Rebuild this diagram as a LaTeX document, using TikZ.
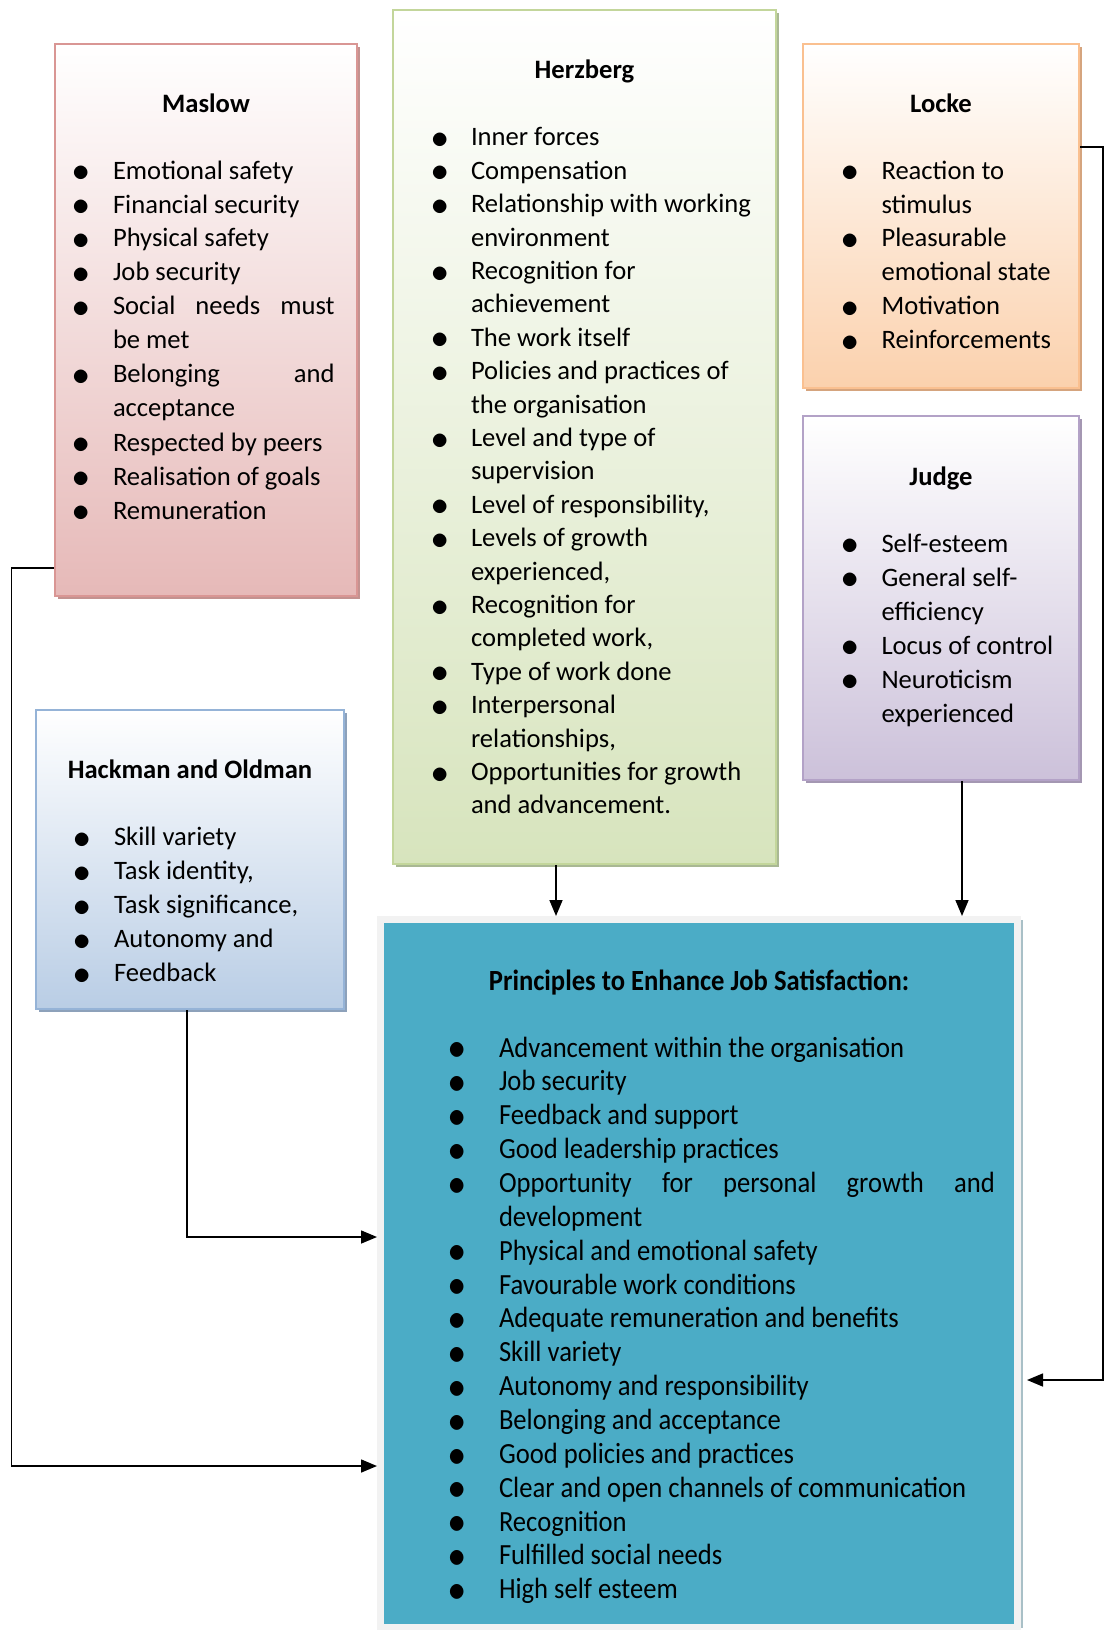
\documentclass[tikz,border=0pt]{standalone}
\usepackage{fontspec}
\setmainfont{Carlito}
\usepackage{graphicx}
\usetikzlibrary{arrows.meta,shadows}

\definecolor{maslowline}{HTML}{D99694}
\definecolor{maslowfill}{HTML}{E6B9B8}
\definecolor{maslowshade}{HTML}{C39290}
\definecolor{herzline}{HTML}{C3D69B}
\definecolor{herzfill}{HTML}{D7E4BD}
\definecolor{herzshade}{HTML}{A9B894}
\definecolor{lockeline}{HTML}{FAC090}
\definecolor{lockefill}{HTML}{FBD1AD}
\definecolor{lockeshade}{HTML}{D5A47E}
\definecolor{judgeline}{HTML}{B3A2C7}
\definecolor{judgefill}{HTML}{CCC1DA}
\definecolor{judgeshade}{HTML}{A497B2}
\definecolor{hackline}{HTML}{95B3D7}
\definecolor{hackfill}{HTML}{B9CDE5}
\definecolor{hackshade}{HTML}{8DA1BA}
\definecolor{principlefill}{HTML}{4BACC6}
\definecolor{principleframe}{HTML}{F2F2F2}
\definecolor{principleshade}{HTML}{A9C0C7}

% bullet list: left margin, label sep, right margin
\newenvironment{theorylist}[3]{\begin{list}{\makebox[0pt]{\raisebox{-2.5pt}{\scalebox{1.4}{$\bullet$}}}}{%
  \setlength{\leftmargin}{#1}\setlength{\labelsep}{#2}\setlength{\rightmargin}{#3}%
  \setlength{\labelwidth}{0pt}\setlength{\itemindent}{0pt}\setlength{\itemsep}{0pt}%
  \setlength{\parsep}{0pt}\setlength{\topsep}{0pt}\setlength{\partopsep}{0pt}}}{\end{list}}

\tikzstyle{base} = [rectangle, line width=2pt, inner sep=0pt, font=\fontsize{26.6}{34}\selectfont]
\tikzstyle{maslowbox} = [base, draw=maslowline, top color=white, bottom color=maslowfill, drop shadow={shadow xshift=3pt, shadow yshift=-3pt, fill=maslowshade, opacity=1}]
\tikzstyle{herzbox} = [base, draw=herzline, top color=white, bottom color=herzfill, drop shadow={shadow xshift=3pt, shadow yshift=-3pt, fill=herzshade, opacity=1}]
\tikzstyle{lockebox} = [base, draw=lockeline, top color=white, bottom color=lockefill, drop shadow={shadow xshift=3pt, shadow yshift=-3pt, fill=lockeshade, opacity=1}]
\tikzstyle{judgebox} = [base, draw=judgeline, top color=white, bottom color=judgefill, drop shadow={shadow xshift=3pt, shadow yshift=-3pt, fill=judgeshade, opacity=1}]
\tikzstyle{hackbox} = [base, draw=hackline, top color=white, bottom color=hackfill, drop shadow={shadow xshift=3pt, shadow yshift=-3pt, fill=hackshade, opacity=1}]
\tikzstyle{principlebox} = [base, draw=principleframe, line width=7pt, outer sep=3.5pt, fill=principlefill, drop shadow={shadow xshift=5pt, shadow yshift=0pt, fill=principleshade, opacity=1}]
\tikzstyle{link} = [line width=1.6pt, -{Triangle[length=16pt,width=13pt]}]

\begin{document}
\begin{tikzpicture}[x=1pt,y=-1pt]
    \useasboundingbox (0,0) rectangle (1105,1630);
    \fill[white] (0,0) rectangle (1105,1630);

    \node (maslow) [maslowbox, minimum width=302pt, minimum height=552pt] at (206,320) {\begin{minipage}[t][552pt][t]{302pt}
        \vspace*{44.7pt}
        {\centering\bfseries\strut Maslow\par}
        \vspace{32.5pt}
        \begin{theorylist}{58pt}{32pt}{22.3pt}
            \item Emotional safety
            \item Financial security
            \item Physical safety
            \item Job security
            \item Social needs must\linebreak be met
            \item Belonging and\linebreak acceptance
            \item Respected by peers
            \item Realisation of goals
            \item Remuneration
        \end{theorylist}
    \end{minipage}};

    \node (herzberg) [herzbox, minimum width=383pt, minimum height=854pt, font=\fontsize{26.6}{33.4}\selectfont] at (584.5,437) {\begin{minipage}[t][854pt][t]{383pt}
        \raggedright
        \vspace*{45.6pt}
        {\centering\bfseries\strut Herzberg\par}
        \vspace{33.6pt}
        \begin{theorylist}{78pt}{31pt}{0pt}
            \item Inner forces
            \item Compensation
            \item Relationship with working\newline environment
            \item Recognition for\newline achievement
            \item The work itself
            \item Policies and practices of\newline the organisation
            \item Level and type of\newline supervision
            \item Level of responsibility,
            \item Levels of growth\newline experienced,
            \item Recognition for\newline completed work,
            \item Type of work done
            \item Interpersonal\newline relationships,
            \item Opportunities for growth\newline and advancement.
        \end{theorylist}
    \end{minipage}};

    \node (locke) [lockebox, minimum width=276pt, minimum height=344pt] at (941,216) {\begin{minipage}[t][344pt][t]{276pt}
        \raggedright
        \vspace*{44.7pt}
        {\centering\bfseries\strut Locke\par}
        \vspace{32.5pt}
        \begin{theorylist}{78.5pt}{31.5pt}{0pt}
            \item Reaction to\newline stimulus
            \item Pleasurable\newline emotional state
            \item Motivation
            \item Reinforcements
        \end{theorylist}
    \end{minipage}};

    \node (judge) [judgebox, minimum width=276pt, minimum height=364pt] at (941,598) {\begin{minipage}[t][364pt][t]{276pt}
        \raggedright
        \vspace*{45.7pt}
        {\centering\bfseries\strut Judge\par}
        \vspace{32.5pt}
        \begin{theorylist}{78.5pt}{31.5pt}{0pt}
            \item Self-esteem
            \item General self-\newline efficiency
            \item Locus of control
            \item Neuroticism\newline experienced
        \end{theorylist}
    \end{minipage}};

    \node (hackman) [hackbox, minimum width=308pt, minimum height=299pt] at (190,859.5) {\begin{minipage}[t][299pt][t]{308pt}
        \raggedright
        \vspace*{44.7pt}
        {\centering\bfseries\strut Hackman and Oldman\par}
        \vspace{33pt}
        \begin{theorylist}{78pt}{32pt}{0pt}
            \item Skill variety
            \item Task identity,
            \item Task significance,
            \item Autonomy and
            \item Feedback
        \end{theorylist}
    \end{minipage}};

    \node (principles) [principlebox, minimum width=637pt, minimum height=708pt] at (699,1273.5) {\scalebox{1}[1.1]{\begin{minipage}[t][637pt][t]{630pt}
        \fontsize{26.6}{30.77}\selectfont
        \vspace*{39.4pt}
        {\centering\bfseries\strut Principles to Enhance Job Satisfaction:\par}
        \vspace{30.1pt}
        \begin{theorylist}{115pt}{42pt}{19pt}
            \item Advancement within the organisation
            \item Job security
            \item Feedback and support
            \item Good leadership practices
            \item Opportunity for personal growth and\linebreak development
            \item Physical and emotional safety
            \item Favourable work conditions
            \item Adequate remuneration and benefits
            \item Skill variety
            \item Autonomy and responsibility
            \item Belonging and acceptance
            \item Good policies and practices
            \item Clear and open channels of communication
            \item Recognition
            \item Fulfilled social needs
            \item High self esteem
        \end{theorylist}
    \end{minipage}}};

    \draw[link] ([xshift=-28.5pt]herzberg.south) -- ([xshift=-28.5pt]herzberg.south |- principles.north);
    \draw[link] ([xshift=21pt]judge.south) -- ([xshift=21pt]judge.south |- principles.north);
    \draw[link] ([xshift=-3pt]hackman.south) |- ([yshift=36.5pt]principles.west);
    \draw[link] ([yshift=29pt]maslow.south west) -- ++(-42.5,0) |- ([yshift=-192.5pt]principles.west);
    \draw[link] ([yshift=69pt]locke.east) -- ++(23,0) |- ([xshift=6pt,yshift=-106.5pt]principles.east);
\end{tikzpicture}
\end{document}
